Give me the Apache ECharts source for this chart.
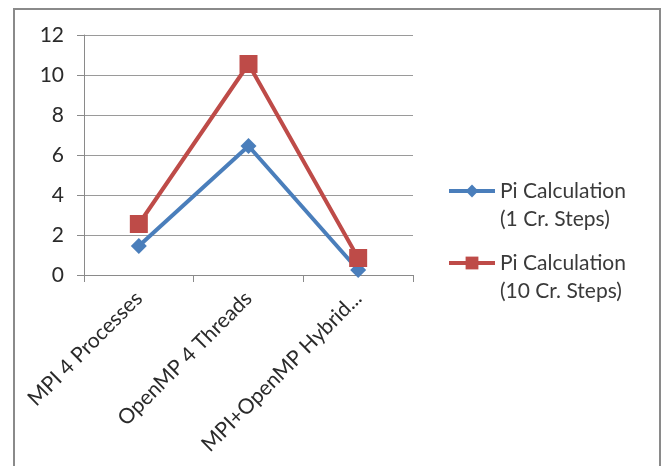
<!DOCTYPE html>
<html>
<head>
<meta charset="utf-8">
<script src="https://cdn.jsdelivr.net/npm/echarts@6/dist/echarts.min.js"></script>
<style>html,body{margin:0;padding:0;background:#fff;}#c{width:664px;height:466px;}</style>
</head>
<body>
<div id="c"></div>
<script>
const categories = ['MPI 4 Processes', 'OpenMP 4 Threads', 'MPI+OpenMP Hybrid...'];
const series1Name = 'Pi Calculation (1 Cr. Steps)';
const series2Name = 'Pi Calculation (10 Cr. Steps)';
const series1Values = [1.45, 6.45, 0.25];
const series2Values = [2.55, 10.55, 0.85];
const yTicks = [0, 2, 4, 6, 8, 10, 12];

const FONT = 'Lato';
const chart = echarts.init(document.getElementById('c'));
chart.setOption({
  animation: false,
  backgroundColor: '#ffffff',
  graphic: [{
    type: 'rect', shape: { x: 14, y: 9, width: 646, height: 470 },
    style: { fill: 'none', stroke: '#8a8a8a', lineWidth: 2 }, silent: true, z: -1
  }],
  grid: { left: 84, right: 251, top: 35, bottom: 191, containLabel: false },
  legend: {
    orient: 'vertical', left: 447, top: 149, itemGap: -12, padding: 0,
    itemWidth: 46, itemHeight: 16,
    data: [
      { name: series1Name, lineStyle: { width: 4 } },
      { name: series2Name, lineStyle: { width: 4 } }
    ],
    formatter: function (name) {
      const i = name.indexOf(' (');
      return '\n' + name.slice(0, i) + '\n' + name.slice(i + 1);
    },
    textStyle: { fontFamily: FONT, fontSize: 21, color: '#3a3a3a', lineHeight: 28 }
  },
  xAxis: {
    type: 'category', data: categories, boundaryGap: true,
    axisLine: { lineStyle: { color: '#8a8a8a', width: 1 } },
    axisTick: { show: true, length: 7, lineStyle: { color: '#8a8a8a' } },
    axisLabel: { rotate: 45, margin: 20, fontFamily: FONT, fontSize: 21, color: '#2a2a2a', interval: 0 }
  },
  yAxis: {
    type: 'value', min: yTicks[0], max: yTicks[yTicks.length - 1], interval: 2,
    axisLine: { show: true, lineStyle: { color: '#8a8a8a', width: 1 } },
    axisTick: { show: true, length: 7, lineStyle: { color: '#8a8a8a' } },
    axisLabel: { margin: 20, fontFamily: FONT, fontSize: 21, color: '#2a2a2a' },
    splitLine: { lineStyle: { color: '#9a9a9a', width: 1 } }
  },
  series: [
    {
      name: series1Name, type: 'line', data: series1Values,
      symbol: 'diamond', symbolSize: 16,
      lineStyle: { color: '#4A7EBB', width: 4 },
      itemStyle: { color: '#4A7EBB' }, z: 2
    },
    {
      name: series2Name, type: 'line', data: series2Values,
      symbol: 'rect', symbolSize: 18,
      lineStyle: { color: '#BE4B48', width: 4 },
      itemStyle: { color: '#BE4B48' }, z: 3
    }
  ]
});
</script>
</body>
</html>
